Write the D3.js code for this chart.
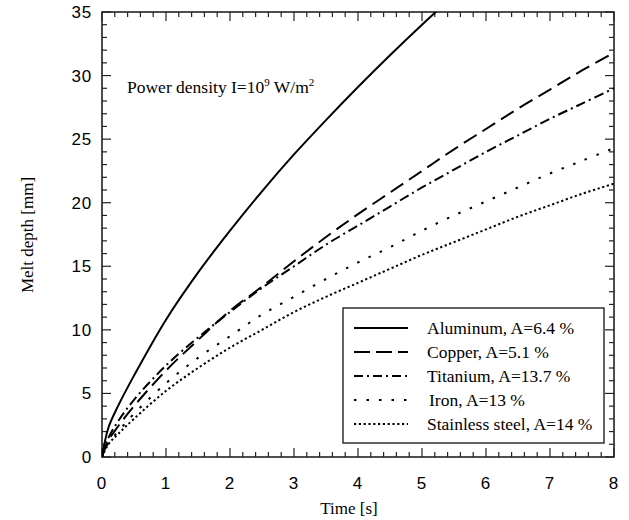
<!DOCTYPE html>
<html>
<head>
<meta charset="utf-8">
<script src="https://cdn.jsdelivr.net/npm/d3@7"></script>
<style>
  body { margin: 0; background: #fff; }
  .tick-label { font-family: "Liberation Sans", Arial, sans-serif; font-size: 17px; letter-spacing: 0.8px; fill: #000; }
  .serif { font-family: "Liberation Serif", "Times New Roman", serif; fill: #000; }
</style>
</head>
<body>
<script>
document.addEventListener("DOMContentLoaded", function(){
  // Set constants
  var width = 629;
  var height = 520;

  // values
  var times = [0, 0.1, 0.25, 0.5, 1, 1.5, 2, 2.5, 3, 3.5, 4, 4.5, 5, 5.5, 6, 6.5, 7, 7.5, 8];
  var aluminum = [0, 2.3, 4.0, 6.4, 10.8, 14.5, 17.8, 20.9, 23.8, 26.5, 29.1, 31.6, 34.0, 36.3, 38.5, 40.6, 42.7, 44.7, 46.7];
  var copper = [0, 1.3, 2.4, 4.0, 6.8, 9.2, 11.5, 13.4, 15.4, 17.3, 19.1, 20.8, 22.5, 24.2, 25.8, 27.4, 28.9, 30.4, 31.8];
  var titanium = [0, 1.5, 2.8, 4.5, 7.2, 9.4, 11.4, 13.3, 15.0, 16.7, 18.2, 19.7, 21.2, 22.6, 24.0, 25.3, 26.6, 27.8, 29.0];
  var iron = [0, 1.1, 2.0, 3.4, 5.8, 7.8, 9.5, 11.2, 12.6, 14.0, 15.3, 16.5, 17.8, 19.0, 20.1, 21.2, 22.3, 23.3, 24.3];
  var stainless = [0, 1.0, 1.8, 3.0, 5.2, 7.0, 8.6, 10.0, 11.4, 12.6, 13.7, 14.8, 15.9, 16.9, 17.9, 18.9, 19.8, 20.7, 21.5];

  var seriesNames = ["Aluminum, A=6.4 %", "Copper, A=5.1 %", "Titanium, A=13.7 %", "Iron, A=13 %", "Stainless steel, A=14 %"];
  var seriesValues = [aluminum, copper, titanium, iron, stainless];
  var dashes = [null, "15 7", "10 4 2 4", "2.5 10", "2.2 2.6"];
  var legendDashes = [null, "16 6", "9 4 2 4", "2.5 10", "2.2 2.6"];

  var xTicks = [0, 1, 2, 3, 4, 5, 6, 7, 8];
  var yTicks = [0, 5, 10, 15, 20, 25, 30, 35];

  var svg = d3.select("body").append("svg")
              .attr("width", width)
              .attr("height", height);

  var xScale = d3.scaleLinear().domain([0, 8]).range([102, 614]);
  var yScale = d3.scaleLinear().domain([0, 35]).range([457, 12]);

  svg.append("clipPath").attr("id", "clip")
    .append("rect")
    .attr("x", 102).attr("y", 12)
    .attr("width", 512).attr("height", 445);

  // minor + major ticks, inward on all four sides
  var xMinor = d3.range(0, 8.001, 0.2);
  var yMinor = d3.range(0, 35.001, 1);
  var ticks = svg.append("g").attr("stroke", "#222").attr("stroke-width", 1.2);
  xMinor.forEach(function(v) {
    var major = Math.abs(v - Math.round(v)) < 1e-6;
    var len = major ? 9 : 5;
    ticks.append("line").attr("x1", xScale(v)).attr("x2", xScale(v))
      .attr("y1", yScale(0)).attr("y2", yScale(0) - len);
    ticks.append("line").attr("x1", xScale(v)).attr("x2", xScale(v))
      .attr("y1", yScale(35)).attr("y2", yScale(35) + len);
  });
  yMinor.forEach(function(v) {
    var major = Math.round(v) % 5 === 0;
    var len = major ? 9 : 5;
    ticks.append("line").attr("y1", yScale(v)).attr("y2", yScale(v))
      .attr("x1", xScale(0)).attr("x2", xScale(0) + len);
    ticks.append("line").attr("y1", yScale(v)).attr("y2", yScale(v))
      .attr("x1", xScale(8)).attr("x2", xScale(8) - len);
  });

  // frame
  svg.append("rect")
    .attr("x", 102).attr("y", 12)
    .attr("width", 512).attr("height", 445)
    .attr("fill", "none").attr("stroke", "#222").attr("stroke-width", 1.6);

  // tick labels
  svg.selectAll(".xlab").data(xTicks).enter().append("text")
    .attr("class", "tick-label")
    .attr("x", function(d) { return xScale(d); })
    .attr("y", 489)
    .attr("text-anchor", "middle")
    .text(function(d) { return d; });
  svg.selectAll(".ylab").data(yTicks).enter().append("text")
    .attr("class", "tick-label")
    .attr("x", 92)
    .attr("y", function(d) { return yScale(d) + 6; })
    .attr("text-anchor", "end")
    .text(function(d) { return d; });

  // axis titles
  svg.append("text").attr("class", "serif")
    .attr("x", 349).attr("y", 514)
    .attr("text-anchor", "middle").style("font-size", "17px")
    .text("Time [s]");
  svg.append("text").attr("class", "serif")
    .attr("transform", "translate(33,235) rotate(-90)")
    .attr("text-anchor", "middle").style("font-size", "17px")
    .text("Melt depth [mm]");

  // annotation
  var ann = svg.append("text").attr("class", "serif")
    .attr("x", 127).attr("y", 93).style("font-size", "17.5px");
  ann.append("tspan").text("Power density I=10");
  ann.append("tspan").attr("dy", -7).style("font-size", "11px").text("9");
  ann.append("tspan").attr("dy", 7).text(" W/m");
  ann.append("tspan").attr("dy", -7).style("font-size", "11px").text("2");

  // curves
  var line = d3.line()
    .x(function(d) { return xScale(d[0]); })
    .y(function(d) { return yScale(d[1]); })
    .curve(d3.curveCatmullRom.alpha(0.5));

  seriesValues.forEach(function(vals, i) {
    var pts = times.map(function(t, j) { return [t, vals[j]]; });
    svg.append("path")
      .attr("d", line(pts))
      .attr("clip-path", "url(#clip)")
      .attr("fill", "none")
      .attr("stroke", "#000")
      .attr("stroke-width", 2)
      .attr("stroke-dasharray", dashes[i]);
  });

  // legend
  var lg = svg.append("g");
  lg.append("rect")
    .attr("x", 343).attr("y", 308)
    .attr("width", 261).attr("height", 135)
    .attr("fill", "#fff").attr("stroke", "#222").attr("stroke-width", 1.4);
  seriesNames.forEach(function(name, i) {
    var y = 328 + i * 24;
    lg.append("line")
      .attr("x1", 354).attr("x2", 408)
      .attr("y1", y).attr("y2", y)
      .attr("stroke", "#000").attr("stroke-width", 2)
      .attr("stroke-dasharray", legendDashes[i]);
    lg.append("text").attr("class", "serif")
      .attr("x", i === 3 ? 429 : 427).attr("y", y + 6)
      .style("font-size", "17.5px")
      .text(name);
  });

}); // End DOMContentLoaded
</script>
</body>
</html>
